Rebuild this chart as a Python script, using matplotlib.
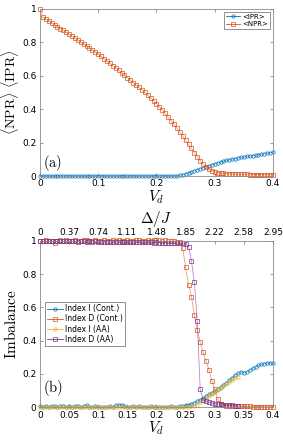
import numpy as np
import matplotlib
matplotlib.use('Agg')
from matplotlib import pyplot as plt

plt.rcParams['font.family'] = ['DejaVu Sans']
plt.rcParams['mathtext.fontset'] = 'cm'

# ---- panel (a) data ----
vd_a = np.arange(0, 81) * 0.005
npr = [1.000, 0.952, 0.941, 0.929, 0.918, 0.906, 0.895, 0.883, 0.872, 0.860,
       0.849, 0.837, 0.826, 0.814, 0.802, 0.790, 0.778, 0.766, 0.754, 0.742,
       0.729, 0.716, 0.703, 0.689, 0.675, 0.661, 0.647, 0.633, 0.618, 0.604,
       0.589, 0.574, 0.559, 0.545, 0.530, 0.515, 0.500, 0.484, 0.467, 0.450,
       0.432, 0.414, 0.395, 0.375, 0.354, 0.332, 0.310, 0.287, 0.263, 0.239,
       0.214, 0.190, 0.165, 0.140, 0.115, 0.092, 0.072, 0.055, 0.042, 0.032,
       0.025, 0.020, 0.017, 0.015, 0.014, 0.013, 0.012, 0.012, 0.011, 0.011,
       0.010, 0.010, 0.009, 0.009, 0.009, 0.008, 0.008, 0.008, 0.008, 0.007,
       0.007]
ipr = [0.001] * 47 + [
       0.003, 0.005, 0.009, 0.014, 0.020, 0.026, 0.032, 0.038, 0.044, 0.050,
       0.056, 0.062, 0.068, 0.074, 0.079, 0.084, 0.089, 0.093, 0.097, 0.101,
       0.104, 0.108, 0.111, 0.114, 0.117, 0.119, 0.122, 0.125, 0.128, 0.131,
       0.134, 0.137, 0.139, 0.141]

# ---- panel (b) data ----
vd_b = np.arange(0, 81) * 0.005
idx_i_cont = [0.010, 0.004, 0.008, 0.002, 0.009, 0.005, 0.003, 0.007, 0.010, 0.004,
              0.008, 0.002, 0.006, 0.009, 0.003, 0.007, 0.011, 0.004, 0.002, 0.006,
              0.003, 0.001, 0.004, 0.002, 0.005, 0.003, 0.014, 0.012, 0.016, 0.010,
              0.004, 0.002, 0.005, 0.003, 0.006, 0.002, 0.004, 0.003, 0.005, 0.002,
              0.004, 0.003, 0.002, 0.004, 0.003, 0.005, 0.004, 0.003, 0.006, 0.008,
              0.012, 0.016, 0.022, 0.028, 0.036, 0.044, 0.055, 0.066, 0.077, 0.088,
              0.098, 0.110, 0.122, 0.135, 0.148, 0.162, 0.178, 0.192, 0.203, 0.214,
              0.208, 0.214, 0.222, 0.234, 0.244, 0.252, 0.258, 0.262, 0.265, 0.266,
              0.268]
idx_d_cont = [1.000, 0.998, 1.002, 0.999, 1.001, 0.986, 1.000, 1.002, 0.999, 1.003,
              1.001, 0.998, 1.002, 1.000, 0.999, 1.002, 1.006, 1.001, 0.999, 1.003,
              1.000, 0.998, 1.002, 1.001, 0.999, 1.003, 1.000, 1.002, 0.999, 1.001,
              1.003, 1.000, 0.998, 1.002, 1.004, 1.000, 0.999, 1.002, 1.001, 1.003,
              1.006, 1.002, 1.000, 1.004, 1.001, 1.000, 0.998, 0.995, 0.990, 0.955,
              0.840, 0.735, 0.665, 0.555, 0.462, 0.390, 0.330, 0.280, 0.226, 0.160,
              0.110, 0.050, 0.022, 0.013, 0.010, 0.009, 0.008, 0.007, 0.006, 0.006,
              0.005, 0.005, 0.005, 0.004, 0.004, 0.004, 0.004, 0.003, 0.003, 0.003,
              0.003]
vd_aa = np.arange(0, 69) * 0.005
idx_i_aa = [0.002, 0.001, 0.002, 0.001, 0.002, 0.001, 0.002, 0.001, 0.002, 0.001,
            0.002, 0.001, 0.002, 0.001, 0.002, 0.001, 0.002, 0.001, 0.002, 0.001,
            0.002, 0.001, 0.002, 0.001, 0.002, 0.001, 0.002, 0.001, 0.002, 0.001,
            0.002, 0.001, 0.002, 0.001, 0.002, 0.001, 0.002, 0.001, 0.002, 0.001,
            0.002, 0.001, 0.002, 0.001, 0.002, 0.001, 0.002, 0.002, 0.002, 0.003,
            0.003, 0.004, 0.005, 0.008, 0.015, 0.030, 0.045, 0.058, 0.070, 0.082,
            0.094, 0.106, 0.118, 0.130, 0.142, 0.154, 0.165, 0.175, 0.184]
idx_d_aa = [0.998, 0.997, 0.998, 0.996, 0.997, 0.998, 0.996, 0.997, 0.998, 0.996,
            0.997, 0.996, 0.997, 0.995, 0.996, 0.997, 0.995, 0.996, 0.995, 0.996,
            0.995, 0.994, 0.995, 0.994, 0.995, 0.993, 0.994, 0.993, 0.994, 0.993,
            0.992, 0.993, 0.992, 0.991, 0.992, 0.991, 0.990, 0.991, 0.990, 0.989,
            0.990, 0.989, 0.988, 0.989, 0.987, 0.988, 0.987, 0.986, 0.985, 0.984,
            0.980, 0.965, 0.880, 0.750, 0.520, 0.110, 0.045, 0.035, 0.030, 0.026,
            0.022, 0.019, 0.017, 0.015, 0.013, 0.012, 0.011, 0.010, 0.010]

xt_b = [0, 0.05, 0.1, 0.15, 0.2, 0.25, 0.3, 0.35, 0.4]
top_labels = ['0', '0.37', '0.74', '1.11', '1.48', '1.85', '2.22', '2.58', '2.95']

blue, orange, yellow, purple = '#0072BD', '#D95319', '#EDB120', '#7E2F8E'
fs = 6.5


def style_axes(ax):
    for s in ax.spines.values():
        s.set_color('0.55')
        s.set_linewidth(0.6)
    ax.tick_params(direction='in', length=2.5, width=0.5, color='0.45',
                   labelsize=fs, top=True, right=True, pad=2.5)


def series(ax, x, y, color, marker, label):
    ax.plot(x, y, '-', color=color, lw=0.6, alpha=0.55)
    ax.plot(x, y, linestyle='none', marker=marker, ms=2.4, mfc='none',
            mec=color, mew=0.5, clip_on=False)
    ax.plot([], [], '-', color=color, lw=0.6, marker=marker, ms=2.4,
            mfc='none', mec=color, mew=0.5, label=label)


fig = plt.figure(figsize=(2.83, 4.41), dpi=100, facecolor='w')

# (a)
ax1 = fig.add_axes([0.1413, 0.6009, 0.8233, 0.3787])
series(ax1, vd_a, ipr, blue, 'o', '<IPR>')
series(ax1, vd_a, npr, orange, 's', '<NPR>')
ax1.set_xlim(0, 0.4)
ax1.set_ylim(0, 1)
ax1.set_xticks([0, 0.1, 0.2, 0.3, 0.4])
ax1.set_xticklabels(['0', '0.1', '0.2', '0.3', '0.4'])
ax1.set_yticks([0, 0.2, 0.4, 0.6, 0.8, 1])
ax1.set_yticklabels(['0', '0.2', '0.4', '0.6', '0.8', '1'])
style_axes(ax1)
ax1.set_xlabel(r'$V_d$', fontsize=11, labelpad=0)
ax1.set_ylabel(r'$\langle\mathrm{NPR}\rangle\ \langle\mathrm{IPR}\rangle$',
               fontsize=10, labelpad=1)
ax1.text(0.015, 0.08, r'$\mathrm{(a)}$', transform=ax1.transAxes,
         fontsize=10.5, va='center')
leg1 = ax1.legend(loc='upper right', fontsize=5, handlelength=2.0,
                  borderpad=0.3, labelspacing=0.2, handletextpad=0.3,
                  fancybox=False, framealpha=1, borderaxespad=0.4)
leg1.get_frame().set_edgecolor('0.4')
leg1.get_frame().set_linewidth(0.5)

# (b)
ax2 = fig.add_axes([0.1413, 0.0764, 0.8233, 0.3778])
series(ax2, vd_b, idx_i_cont, blue, 'o', 'Index I (Cont.)')
series(ax2, vd_b, idx_d_cont, orange, 's', 'Index D (Cont.)')
series(ax2, vd_aa, idx_i_aa, yellow, 'o', 'Index I (AA)')
series(ax2, vd_aa, idx_d_aa, purple, 's', 'Index D (AA)')
ax2.set_xlim(0, 0.4)
ax2.set_ylim(0, 1)
ax2.set_xticks(xt_b)
ax2.set_xticklabels(['0', '0.05', '0.1', '0.15', '0.2', '0.25', '0.3', '0.35', '0.4'])
ax2.set_yticks([0, 0.2, 0.4, 0.6, 0.8, 1])
ax2.set_yticklabels(['0', '0.2', '0.4', '0.6', '0.8', '1'])
style_axes(ax2)
ax2.tick_params(top=False)
ax2.set_xlabel(r'$V_d$', fontsize=11, labelpad=0)
ax2.set_ylabel(r'$\mathrm{Imbalance}$', fontsize=11, labelpad=2)
ax2.text(0.015, 0.115, r'$\mathrm{(b)}$', transform=ax2.transAxes,
         fontsize=10.5, va='center')
leg2 = ax2.legend(loc='center left', bbox_to_anchor=(0.005, 0.5), fontsize=5.5,
                  handlelength=2.0, borderpad=0.3, labelspacing=0.15,
                  handletextpad=0.3, fancybox=False, framealpha=1)
leg2.get_frame().set_edgecolor('0.4')
leg2.get_frame().set_linewidth(0.5)

top = ax2.twiny()
top.set_xlim(0, 0.4)
top.set_xticks(xt_b)
top.set_xticklabels(top_labels)
for s in top.spines.values():
    s.set_visible(False)
top.tick_params(direction='in', length=2.5, width=0.5, color='0.45',
                labelsize=fs, pad=2.5)
top.set_xlabel(r'$\Delta/J$', fontsize=11, labelpad=4)

fig.savefig('out.png', dpi=100)
